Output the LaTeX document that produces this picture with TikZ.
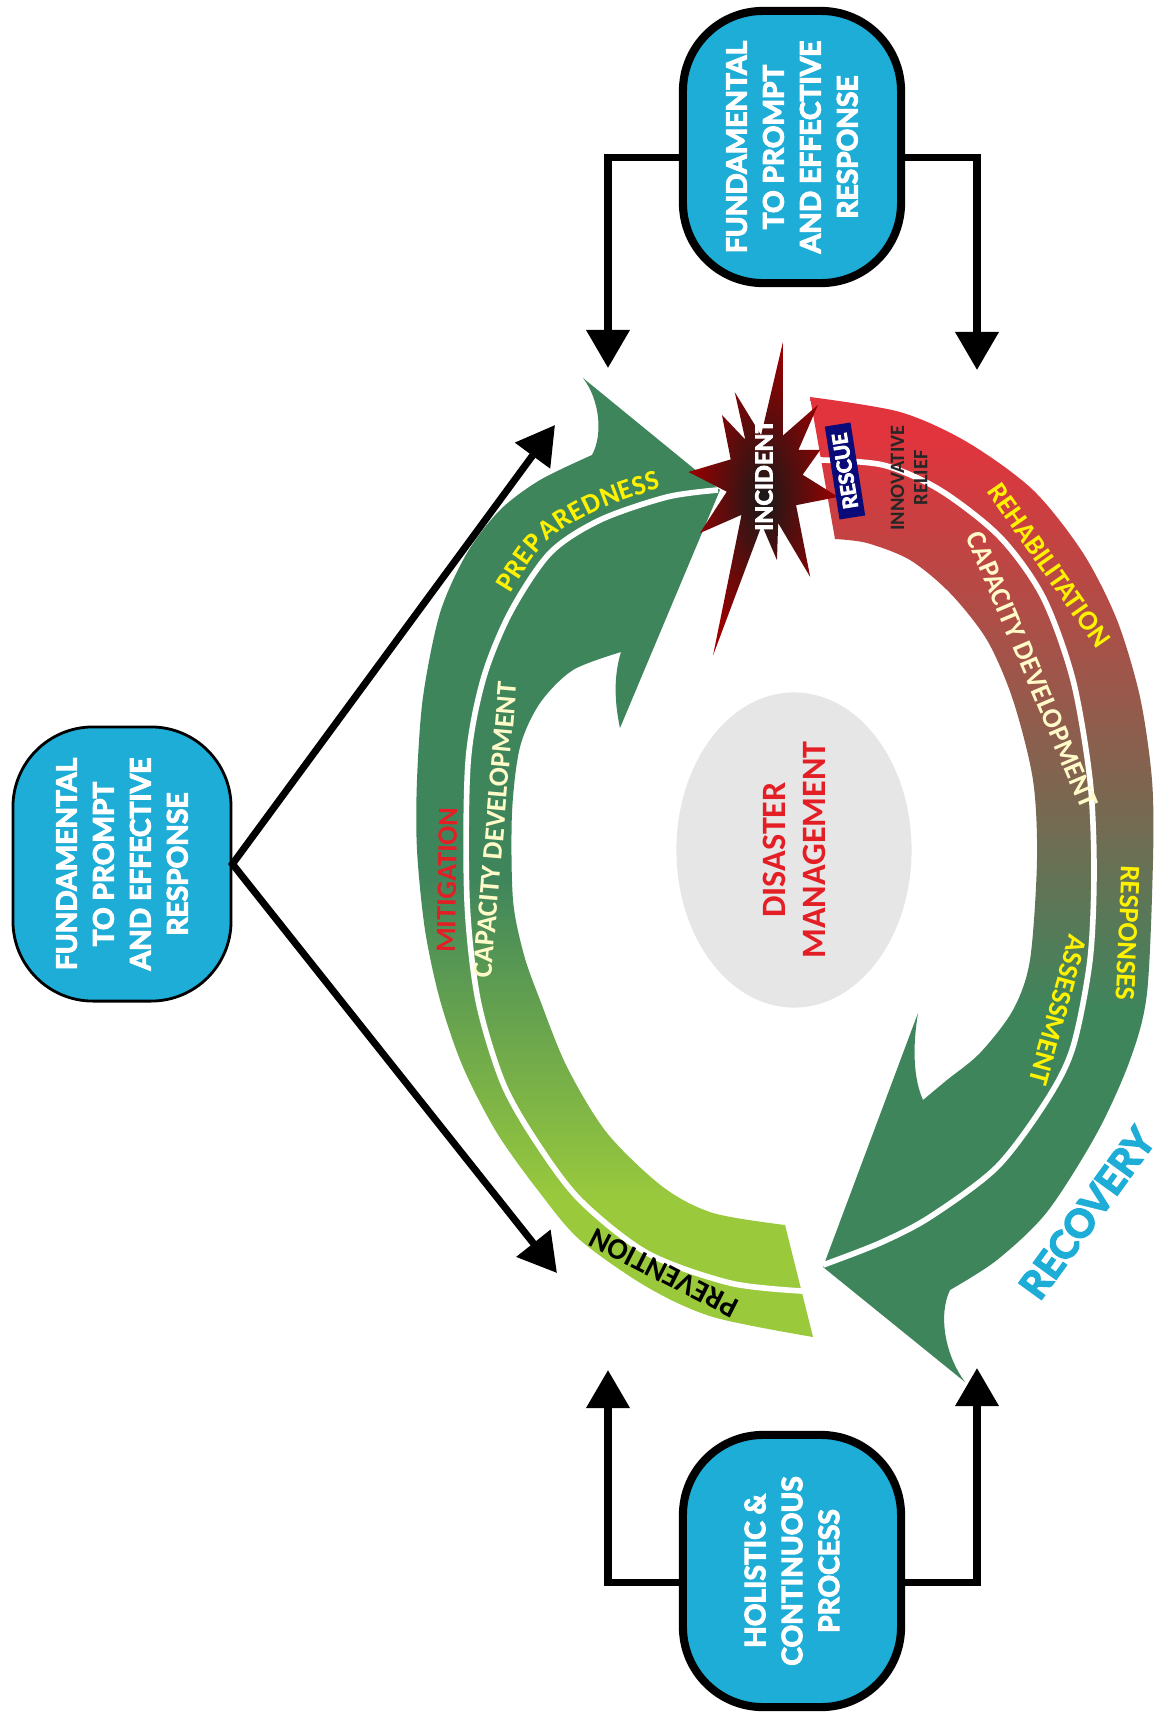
\documentclass[tikz,border=0pt]{standalone}
\usepackage{fontspec}
\setmainfont{Lato}
\newfontfamily\heavyfont{Lato}[FakeBold=4]
\newfontfamily\labelfont{Carlito}
\usetikzlibrary{arrows.meta,shapes.geometric,decorations.text}

\definecolor{boxblue}{RGB}{30,173,214}
\definecolor{darkgreen}{RGB}{63,133,92}
\definecolor{lightgreen}{RGB}{154,202,60}
\definecolor{bandred}{RGB}{225,52,61}
\definecolor{labelyellow}{RGB}{255,242,0}
\definecolor{cream}{RGB}{255,250,200}
\definecolor{dmred}{RGB}{227,30,36}
\definecolor{rescuenavy}{RGB}{10,10,120}
\definecolor{starred}{RGB}{155,0,0}
\definecolor{ovalgrey}{RGB}{230,230,230}

\pgfdeclareverticalshading{leftfade}{100bp}{color(0bp)=(lightgreen); color(32bp)=(lightgreen); color(49bp)=(darkgreen); color(100bp)=(darkgreen)}
\pgfdeclareverticalshading{rightfade}{100bp}{color(0bp)=(darkgreen); color(44bp)=(darkgreen); color(73bp)=(bandred); color(100bp)=(bandred)}

\newcommand{\arcstyle}{\labelfont\bfseries\fontsize{8}{9.5}\selectfont}

\begin{document}
\begin{tikzpicture}[x=0.01cm, y=-0.01cm,
  infobox/.style={draw, line width=2.3pt, fill=boxblue, text=white, rounded corners=0.8cm,
    align=center, rotate=90, inner sep=0pt, minimum width=2.72cm, minimum height=2.18cm,
    font=\heavyfont\bfseries\fontsize{8}{10.5}\selectfont},
  conn/.style={line width=2pt, -{Triangle[width=0.42cm,length=0.38cm]}},
  bothconn/.style={line width=2pt, {Triangle[width=0.42cm,length=0.38cm]}-{Triangle[width=0.42cm,length=0.38cm]}},
  sepline/.style={white, line width=1.6pt},
  bandlabel/.style={inner sep=0pt, font=\arcstyle},
  arctext/.style n args={3}{decorate, decoration={text along path, text align=center, raise=#1, text color=#2, text={#3}}}]

\fill[white] (0,0) rectangle (1155,1714);
\useasboundingbox (0,0) rectangle (1155,1714);

\node[ellipse, fill=ovalgrey, rotate=90, minimum width=3.15cm, minimum height=2.35cm, inner sep=0pt,
  align=center, text=dmred, font=\labelfont\bfseries\fontsize{9.7}{11.4}\selectfont] (dm) at (794,850) {DISASTER\\MANAGEMENT};

\shade[shading=leftfade] plot[smooth] coordinates {(813,1337) (713,1317) (647,1287) (580,1240) (540,1193) (497,1133) (463,1067) (440,1000) (425,930) (417,850) (417,780) (423,697) (440,613) (467,553) (500,510) (540,480) (592,455)}
  .. controls (603,435) and (600,400) .. (583,378) -- (720,490) -- (620,728)
  .. controls (614,700) and (614,675) .. (621,652)
  -- plot[smooth] coordinates {(621,652) (573,670) (540,703) (520,747) (512,813) (513,900) (524,955) (540,1000) (567,1067) (607,1133) (663,1187) (713,1213) (785,1225)} -- cycle;

\shade[shading=rightfade] plot[smooth] coordinates {(810,397) (900,412) (967,442) (1033,490) (1083,553) (1117,620) (1140,697) (1152,780) (1153,860) (1147,993) (1130,1060) (1097,1133) (1047,1212) (997,1260) (950,1290)}
  .. controls (938,1315) and (945,1355) .. (965,1382) -- (823,1267) -- (918,1013)
  .. controls (912,1050) and (914,1080) .. (923,1100)
  -- plot[smooth] coordinates {(923,1100) (947,1080) (980,1053) (1013,1010) (1030,960) (1037,860) (1033,780) (1013,700) (987,640) (950,593) (910,560) (867,543) (835,539)} -- cycle;

\draw[sepline] plot[smooth] coordinates {(802,1291) (730,1283) (647,1253) (580,1200) (537,1143) (503,1083) (478,1000) (467,900) (468,763) (483,680) (510,613) (550,553) (600,520) (667,497) (718,490)};
\draw[sepline] plot[smooth] coordinates {(820,460) (883,465) (940,490) (1000,537) (1043,597) (1073,680) (1090,780) (1094,870) (1090,960) (1073,1047) (1047,1100) (997,1167) (930,1217) (880,1243) (823,1265)};

\shade[shift={(765,480)}, inner color=black!90, outer color=starred]
  (-82.6:139) -- (-68:48) -- (-54.8:92) -- (-42:45) -- (-28.6:63) -- (-8:38) -- (13:75) -- (39:40)
  -- (65:107) -- (73:45) -- (81.5:81) -- (94:45) -- (106.5:183) -- (124:42) -- (140.8:84) -- (163:40)
  -- (186:77) -- (211:40) -- (236.5:78) -- (244:45) -- (251:93) -- (265:45) -- cycle;
\node[rotate=90, text=white, font=\heavyfont\bfseries\fontsize{6.7}{8}\selectfont] (incident) at (764,475) {INCIDENT};

\node[rotate=99, fill=rescuenavy, text=white, inner sep=0pt, minimum width=0.94cm, minimum height=0.26cm,
  font=\heavyfont\bfseries\fontsize{5.8}{7}\selectfont] (rescue) at (845,471) {RESCUE};
\node[rotate=90, align=center, text=black!85, font=\labelfont\bfseries\fontsize{5.8}{6.6}\selectfont] (relief) at (909,478) {INNOVATIVE\\RELIEF};

\path[arctext={0.1cm}{labelyellow}{|\arcstyle|PREPAREDNESS}] plot[smooth] coordinates {(495,648) (510,613) (550,553) (600,520) (667,497) (718,490)};

\node[bandlabel, rotate=89, text=dmred] (mitigation) at (447,880) {MITIGATION};
\node[bandlabel, rotate=85, text=cream] (capleft) at (495,830) {CAPACITY DEVELOPMENT};
\node[bandlabel, rotate=153, text=black, font=\labelfont\bfseries\fontsize{8.5}{10}\selectfont] (prevention) at (664,1273) {PREVENTION};
\node[bandlabel, rotate=-55, text=labelyellow] (rehab) at (1049,565) {REHABILITATION};
\node[bandlabel, rotate=-67, text=cream] (capright) at (1032,670) {CAPACITY DEVELOPMENT};
\node[bandlabel, rotate=-92.6, text=labelyellow] (responses) at (1128,933) {RESPONSES};
\node[bandlabel, rotate=-105.4, text=labelyellow] (assessment) at (1058,1010) {ASSESSMENT};

\node[rotate=54, text=boxblue, font=\heavyfont\bfseries\fontsize{11}{13}\selectfont] (recovery) at (1087,1213) {RECOVERY};

\node[infobox] (tb) at (792,147) {FUNDAMENTAL\\TO PROMPT\\AND EFFECTIVE\\RESPONSE};
\node[infobox] (bb) at (792,1571) {HOLISTIC \&\\CONTINUOUS\\PROCESS};
\node[infobox, line width=0.8pt, minimum width=2.74cm] (lb) at (122,864) {FUNDAMENTAL\\TO PROMPT\\AND EFFECTIVE\\RESPONSE};

\coordinate (tl) at (608,368);
\coordinate (tr) at (977,370);
\coordinate (bl) at (608,1370);
\coordinate (br) at (977,1368);
\coordinate (lu) at (555,425);
\coordinate (ld) at (557,1273);

\draw[conn] ([yshift=-0.1cm]tb.north) -| (tl);
\draw[conn] ([yshift=-0.1cm]tb.south) -| (tr);
\draw[conn] ([yshift=-0.11cm]bb.north) -| (bl);
\draw[conn] ([yshift=-0.11cm]bb.south) -| (br);
\draw[bothconn] (lu) -- (lb.south) -- (ld);
\end{tikzpicture}
\end{document}
